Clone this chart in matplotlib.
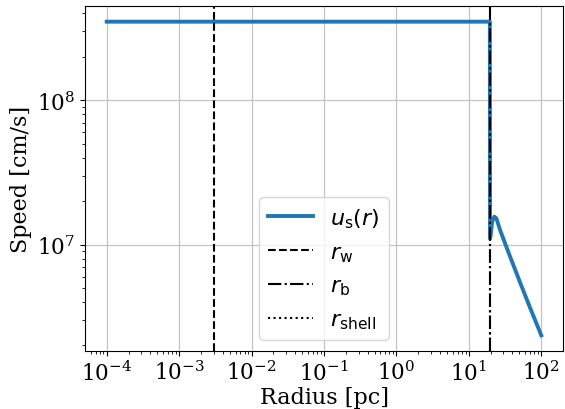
import matplotlib
matplotlib.use("Agg")
import matplotlib.pyplot as plt
from matplotlib.ticker import LogLocator

plt.rcParams['font.family'] = 'serif'
plt.rcParams['mathtext.fontset'] = 'dejavusans'

# Shock speed profile u_s(r): free wind region, then shocked shell
radius_pc = [1e-4, 19.5, 19.6, 20.0, 21.0, 22.5, 24.0, 27.0, 35.0, 50.0, 70.0, 100.0]
speed_cms = [3.5e8, 3.5e8, 1.1e7, 1.15e7, 1.45e7, 1.56e7, 1.52e7, 1.26e7, 8.9e6, 5.6e6, 3.65e6, 2.35e6]

# Characteristic radii [pc]
r_w = 3.0e-3
r_b = 19.4
r_shell = 19.8

fig = plt.figure(figsize=(5.65, 4.1), dpi=100)
ax = fig.add_axes([85 / 565, 58 / 410, 478 / 565, 345 / 410])
ax.plot(radius_pc, speed_cms, color='#1f77b4', lw=2.8, label=r'$u_\mathrm{s}(r)$')
ax.axvline(r_w, color='k', ls='--', lw=1.5, label=r'$r_\mathrm{w}$')
ax.axvline(r_b, color='k', ls='-.', lw=1.5, label=r'$r_\mathrm{b}$')
ax.axvline(r_shell, color='k', ls=':', lw=1.5, label=r'$r_\mathrm{shell}$')

ax.set_xscale('log')
ax.set_yscale('log')
ax.xaxis.set_major_locator(LogLocator(base=10, numticks=20))
ax.xaxis.set_minor_locator(LogLocator(base=10, subs=range(2, 10), numticks=20))
ax.grid(True, which='major', color='#c4c4c4', lw=0.9)
ax.tick_params(labelsize=15.5)
ax.set_xlabel('Radius [pc]', fontsize=16, labelpad=1)
ax.set_ylabel('Speed [cm/s]', fontsize=16)
ax.legend(loc='lower center', fontsize=16)

fig.savefig('out.png', dpi=100)
